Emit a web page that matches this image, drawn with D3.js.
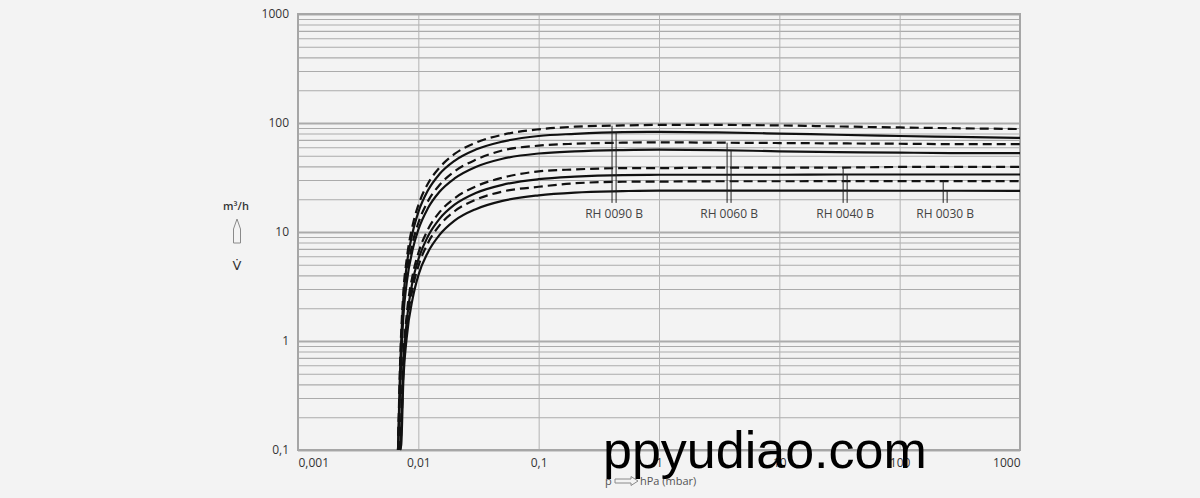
<!DOCTYPE html>
<html>
<head>
<meta charset="utf-8">
<script src="https://cdn.jsdelivr.net/npm/d3@7"></script>
<style>
  body { margin: 0; background: #f3f3f3; }
  svg { display: block; }
</style>
</head>
<body>
<div id="chart"></div>
<script>
// pressure points (hPa) for the two curve groups
var pUpper = [0.00678, 0.007, 0.0075, 0.008, 0.009, 0.01, 0.012, 0.015, 0.02, 0.03, 0.05, 0.1, 0.2, 0.5, 1, 3, 10, 30, 100, 300, 1000];
var pLower = [0.00705, 0.0072, 0.0075, 0.008, 0.009, 0.01, 0.012, 0.015, 0.02, 0.03, 0.05, 0.1, 0.2, 0.5, 1, 3, 10, 30, 100, 300, 1000];

// pumping speed m3/h, dashed and solid curve for each pump
var rh0090Dashed = [0.1, 0.47, 2.76, 5.6, 11.7, 17.6, 27.7, 39, 52, 66, 78, 87.5, 92.5, 95, 96, 96, 95, 93, 91, 89.5, 88];
var rh0090Solid  = [0.1, 0.41, 2.4, 4.9, 10.1, 15.2, 24, 34, 45, 57, 67.5, 76, 79.5, 82.5, 83, 82, 80, 78, 76, 74.5, 73];
var rh0060Dashed = [0.1, 0.32, 1.9, 3.9, 8.1, 12.1, 19.1, 27, 36, 46, 56, 62, 64.5, 66, 66.5, 66, 65.5, 65, 64.5, 64, 64];
var rh0060Solid  = [0.1, 0.28, 1.65, 3.4, 7, 10.5, 16.5, 23.4, 31, 39.5, 47, 52.5, 55, 56.5, 57, 56.5, 55, 54, 53.5, 53, 53];
var rh0040Dashed = [0.1, 0.18, 0.67, 1.72, 4.1, 6.4, 10.5, 15.2, 20.4, 26.2, 31.5, 36, 37.5, 38.5, 38.5, 39, 39, 39, 39.5, 39.5, 39.5];
var rh0040Solid  = [0.1, 0.16, 0.58, 1.5, 3.6, 5.6, 9.1, 13.2, 17.8, 22.8, 27.1, 30.5, 32.2, 33.3, 33.5, 33.5, 33.5, 33.7, 33.7, 33.7, 33.7];
var rh0030Dashed = [0.1, 0.14, 0.51, 1.3, 3.1, 4.85, 7.9, 11.5, 15.5, 19.8, 23.5, 26, 28, 28.9, 29, 29.2, 29.2, 29.3, 29.3, 29.3, 29.3];
var rh0030Solid  = [0.1, 0.11, 0.42, 1.07, 2.5, 4, 6.5, 9.4, 12.7, 16.2, 19.3, 21.7, 23, 23.7, 24, 24, 24, 24, 23.9, 23.9, 23.8];

var pumpNames = ["RH 0090 B", "RH 0060 B", "RH 0040 B", "RH 0030 B"];
// pressures where the two leader lines of each label sit
var leaderP = [[0.407, 0.44], [3.68, 3.97], [33.9, 36.6], [230, 248]];
var leaderBottom = 18.5;

var xTickVals = [0.001, 0.01, 0.1, 1, 10, 100, 1000];
var xTickLabels = ["0,001", "0,01", "0,1", "1", "10", "100", "1000"];
var yTickVals = [0.1, 1, 10, 100, 1000];
var yTickLabels = ["0,1", "1", "10", "100", "1000"];

var series = [
  { p: pUpper, v: rh0090Dashed, dashed: true },
  { p: pUpper, v: rh0090Solid, dashed: false },
  { p: pUpper, v: rh0060Dashed, dashed: true },
  { p: pUpper, v: rh0060Solid, dashed: false },
  { p: pLower, v: rh0040Dashed, dashed: true },
  { p: pLower, v: rh0040Solid, dashed: false },
  { p: pLower, v: rh0030Dashed, dashed: true },
  { p: pLower, v: rh0030Solid, dashed: false }
];

var W = 1200, H = 498;
var margin = { top: 14, right: 180, bottom: 48, left: 298 };
var width = W - margin.left - margin.right,
    height = H - margin.top - margin.bottom;

var svg = d3.select("#chart").append("svg")
  .attr("width", W)
  .attr("height", H)
  .style("background", "#f3f3f3");

var g = svg.append("g")
  .attr("transform", "translate(" + margin.left + "," + margin.top + ")");

var x = d3.scaleLog().domain([0.001, 1000]).range([0, width]);
var y = d3.scaleLog().domain([0.1, 1000]).range([height, 0]);

// horizontal grid (1..9 per decade)
g.append("g")
  .attr("class", "ygrid")
  .call(d3.axisLeft(y).ticks(40).tickSize(-width).tickFormat(""))
  .call(function (s) {
    s.select(".domain").remove();
    s.selectAll("line")
      .attr("stroke", "#ababab")
      .attr("stroke-width", function (d) {
        return Math.abs(Math.log10(d) - Math.round(Math.log10(d))) < 1e-6 ? 1.8 : 1.1;
      });
  });

// vertical grid at decades
g.append("g")
  .attr("class", "xgrid")
  .call(d3.axisBottom(x).tickValues(xTickVals).tickSize(height).tickFormat(""))
  .call(function (s) {
    s.select(".domain").remove();
    s.selectAll("line").attr("stroke", "#b4b4b4").attr("stroke-width", 1);
  });

// frame
g.append("rect")
  .attr("x", 0).attr("y", 0)
  .attr("width", width).attr("height", height)
  .attr("fill", "none")
  .attr("stroke", "#a6a6a6")
  .attr("stroke-width", 2);

// tick labels
g.append("g")
  .attr("transform", "translate(0," + height + ")")
  .call(d3.axisBottom(x).tickValues(xTickVals).tickSize(0).tickPadding(8)
    .tickFormat(function (d, i) { return xTickLabels[i]; }))
  .call(function (s) {
    s.select(".domain").remove();
    s.selectAll("text")
      .attr("fill", "#333")
      .style("font-family", "'Open Sans', sans-serif")
      .style("font-size", "12px")
      .attr("text-anchor", function (d, i) {
        return i === 0 ? "start" : (i === xTickVals.length - 1 ? "end" : "middle");
      });
  });

g.append("g")
  .call(d3.axisLeft(y).tickValues(yTickVals).tickSize(0).tickPadding(9)
    .tickFormat(function (d, i) { return yTickLabels[i]; }))
  .call(function (s) {
    s.select(".domain").remove();
    s.selectAll("text")
      .attr("fill", "#333")
      .style("font-family", "'Open Sans', sans-serif")
      .style("font-size", "12px");
  });

// curves
var line = d3.line()
  .x(function (d) { return x(d[0]); })
  .y(function (d) { return y(d[1]); })
  .curve(d3.curveMonotoneX);

series.forEach(function (s) {
  var pts = s.p.map(function (p, i) { return [p, s.v[i]]; });
  g.append("path")
    .datum(pts)
    .attr("d", line)
    .attr("fill", "none")
    .attr("stroke", "#111")
    .attr("stroke-width", 2.2)
    .attr("stroke-dasharray", s.dashed ? "9,5" : null);
});

// value of a series at pressure p (log-log interpolation)
function valueAt(s, p) {
  for (var i = 1; i < s.p.length; i++) {
    if (p <= s.p[i]) {
      var t = (Math.log(p) - Math.log(s.p[i - 1])) / (Math.log(s.p[i]) - Math.log(s.p[i - 1]));
      return Math.exp(Math.log(s.v[i - 1]) + t * (Math.log(s.v[i]) - Math.log(s.v[i - 1])));
    }
  }
  return s.v[s.v.length - 1];
}

// leader lines and labels
pumpNames.forEach(function (name, k) {
  var pair = [series[2 * k], series[2 * k + 1]];
  pair.forEach(function (s, j) {
    var p = leaderP[k][j];
    g.append("line")
      .attr("x1", x(p)).attr("x2", x(p))
      .attr("y1", y(valueAt(s, p)))
      .attr("y2", y(leaderBottom))
      .attr("stroke", "#222")
      .attr("stroke-width", 1);
  });
  var cx = (x(leaderP[k][0]) + x(leaderP[k][1])) / 2;
  g.append("text")
    .attr("x", cx)
    .attr("y", y(leaderBottom) + 15)
    .attr("text-anchor", "middle")
    .attr("fill", "#444")
    .style("font-family", "'Open Sans', sans-serif")
    .style("font-size", "12px")
    .text(name);
});

// y axis title
svg.append("text")
  .attr("x", 236).attr("y", 210)
  .attr("text-anchor", "middle")
  .attr("fill", "#333")
  .style("font-family", "'Open Sans', sans-serif")
  .style("font-size", "11px")
  .style("font-weight", "600")
  .text("m³/h");

svg.append("path")
  .attr("d", "M233.5,243 V229 L237,219 L240.5,229 V243 Z")
  .attr("fill", "none")
  .attr("stroke", "#8a8a8a")
  .attr("stroke-width", 1);

svg.append("text")
  .attr("x", 237).attr("y", 270)
  .attr("text-anchor", "middle")
  .attr("fill", "#333")
  .style("font-family", "'DejaVu Sans', sans-serif")
  .style("font-size", "13px")
  .text("V\u0307");

// x axis title
svg.append("text")
  .attr("x", 605).attr("y", 485)
  .attr("fill", "#555")
  .style("font-family", "'Open Sans', sans-serif")
  .style("font-size", "11px")
  .text("p");

svg.append("path")
  .attr("d", "M615,479 H631 V476.5 L638,481 L631,485.5 V483 H615 Z")
  .attr("fill", "none")
  .attr("stroke", "#8a8a8a")
  .attr("stroke-width", 1);

svg.append("text")
  .attr("x", 640).attr("y", 485)
  .attr("fill", "#555")
  .style("font-family", "'Open Sans', sans-serif")
  .style("font-size", "11px")
  .text("hPa (mbar)");

// watermark
svg.append("text")
  .attr("x", 603).attr("y", 468)
  .attr("fill", "#000")
  .style("font-family", "'Liberation Sans', Arial, sans-serif")
  .style("font-size", "52px")
  .text("ppyudiao.com");
</script>
</body>
</html>
